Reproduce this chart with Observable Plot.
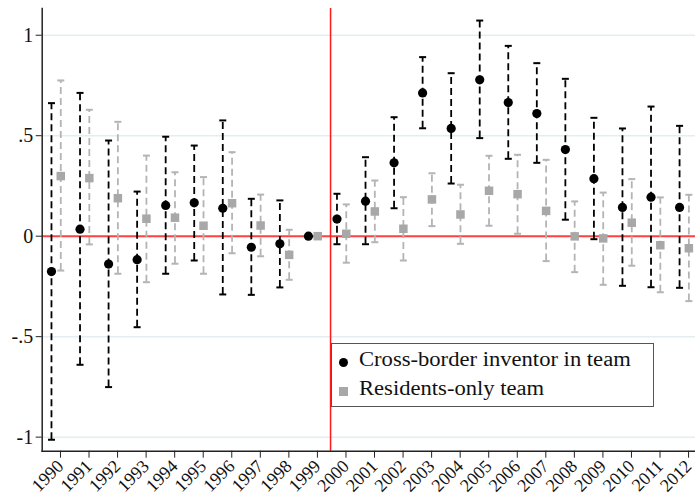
<!DOCTYPE html>
<html>
<head>
<meta charset="utf-8">
<script src="https://cdn.jsdelivr.net/npm/d3@7"></script>
<script src="https://cdn.jsdelivr.net/npm/@observablehq/plot@0.6"></script>
<style>
  html, body { margin: 0; padding: 0; background: #fff; }
  #wrap { position: relative; width: 695px; height: 497px; font-family: "Liberation Serif", "DejaVu Serif", serif; }
  #legend { position: absolute; left: 331px; top: 343px; width: 321px; height: 62px; border: 1.5px solid #555; background: #fff; box-sizing: content-box; }
  .row { position: absolute; left: 0; font-size: 20px; color: #111; white-space: nowrap; }
  .row span.t { position: absolute; left: 27px; top: 0; display: inline-block; transform: scaleX(1.13); transform-origin: 0 50%; }
  .sym { position: absolute; }
</style>
</head>
<body>
<div id="wrap">
  <div id="chart"></div>
  <div id="legend">
    <div class="row" style="top:4px"><div class="sym" style="left:7px;top:10px;width:9px;height:9px;border-radius:50%;background:#000"></div><span class="t">Cross-border inventor in team</span></div>
    <div class="row" style="top:33px"><div class="sym" style="left:7px;top:10px;width:9px;height:9px;background:#a8a8a8"></div><span class="t">Residents-only team</span></div>
  </div>
</div>
<script>
const years = [1990,1991,1992,1993,1994,1995,1996,1997,1998,1999,2000,2001,2002,2003,2004,2005,2006,2007,2008,2009,2010,2011,2012];
const crossPoint = [-0.176, 0.035, -0.139, -0.117, 0.153, 0.166, 0.139, -0.055, -0.038, 0, 0.085, 0.174, 0.365, 0.713, 0.536, 0.778, 0.665, 0.610, 0.431, 0.286, 0.143, 0.194, 0.143];
const crossLow   = [-1.013, -0.640, -0.751, -0.453, -0.187, -0.121, -0.290, -0.292, -0.255, null, -0.040, -0.040, 0.139, 0.537, 0.262, 0.488, 0.385, 0.365, 0.082, -0.015, -0.247, -0.254, -0.257];
const crossHigh  = [0.662, 0.713, 0.476, 0.222, 0.495, 0.451, 0.576, 0.186, 0.178, null, 0.211, 0.393, 0.592, 0.891, 0.811, 1.073, 0.947, 0.861, 0.783, 0.589, 0.536, 0.645, 0.549];
const resPoint = [0.299, 0.289, 0.189, 0.087, 0.092, 0.052, 0.164, 0.053, -0.093, 0, 0.012, 0.123, 0.037, 0.183, 0.108, 0.226, 0.209, 0.126, -0.001, -0.011, 0.067, -0.045, -0.060];
const resLow   = [-0.171, -0.041, -0.187, -0.229, -0.137, -0.187, -0.085, -0.100, -0.217, null, -0.132, -0.030, -0.121, 0.050, -0.038, 0.052, 0.012, -0.124, -0.179, -0.242, -0.147, -0.279, -0.323];
const resHigh  = [0.775, 0.629, 0.569, 0.401, 0.318, 0.294, 0.418, 0.207, 0.032, null, 0.158, 0.277, 0.194, 0.313, 0.256, 0.400, 0.405, 0.380, 0.173, 0.217, 0.284, 0.193, 0.206];
const yTicks = [-1, -0.5, 0, 0.5, 1];
const gridValues = [-1, -0.5, 0.5, 1];
const breakYear = 1999.6;

const cross = years.map((year, i) => ({year, point: crossPoint[i], low: crossLow[i], high: crossHigh[i]}));
const res = years.map((year, i) => ({year, point: resPoint[i], low: resLow[i], high: resHigh[i]}));

const cap = { draw(ctx, size) { const r = Math.sqrt(size / Math.PI); ctx.moveTo(-r, 0); ctx.lineTo(r, 0); } };
const fmt = d => d === 0 ? "0" : String(d).replace("0.", ".");
const font = "Liberation Serif";

const chart = Plot.plot({
  width: 695,
  height: 497,
  marginLeft: 41.7,
  marginRight: 0,
  marginTop: 8,
  marginBottom: 46.3,
  style: { fontFamily: font, background: "#fff", overflow: "visible" },
  x: { domain: [1989.5, 2012.383] },
  y: { domain: [-1.07, 1.133] },
  marks: [
    Plot.gridY(gridValues, { stroke: "#e4eef1", strokeOpacity: 1, strokeWidth: 1.5 }),
    Plot.ruleY([0], { stroke: "#ff4040", strokeWidth: 2 }),
    Plot.ruleX([breakYear], { stroke: "#ff1a1a", strokeWidth: 1.5 }),
    Plot.ruleX(res, { x: "year", y1: "low", y2: "high", dx: 4.3, stroke: "#b4b4b4", strokeWidth: 1.8, strokeDasharray: "7,4" }),
    Plot.dot(res, { x: "year", y: "low", dx: 4.3, symbol: cap, r: 3.5, stroke: "#b4b4b4", strokeWidth: 2, fill: "none" }),
    Plot.dot(res, { x: "year", y: "high", dx: 4.3, symbol: cap, r: 3.5, stroke: "#b4b4b4", strokeWidth: 2, fill: "none" }),
    Plot.ruleX(cross, { x: "year", y1: "low", y2: "high", dx: -5, stroke: "#000", strokeWidth: 1.8, strokeDasharray: "7,4" }),
    Plot.dot(cross, { x: "year", y: "low", dx: -5, symbol: cap, r: 3.5, stroke: "#000", strokeWidth: 2, fill: "none" }),
    Plot.dot(cross, { x: "year", y: "high", dx: -5, symbol: cap, r: 3.5, stroke: "#000", strokeWidth: 2, fill: "none" }),
    Plot.dot(res, { x: "year", y: "point", dx: 4.3, symbol: "square", r: 4.8, fill: "#a8a8a8", stroke: null }),
    Plot.dot(cross, { x: "year", y: "point", dx: -5, r: 4.6, fill: "#000", stroke: null }),
    Plot.frame({ anchor: "left", stroke: "#222", strokeWidth: 1.5 }),
    Plot.frame({ anchor: "bottom", stroke: "#222", strokeWidth: 1.5 }),
    Plot.axisY(yTicks, { tickFormat: fmt, tickSize: 6, tickPadding: 3, fontSize: 20, stroke: "#222", fill: "#111", label: null }),
    Plot.axisX(years, { tickFormat: d => String(d), tickSize: 7, tickPadding: 5, tickRotate: -45, fontSize: 18, stroke: "#222", fill: "#111", label: null, dx: 4 })
  ]
});
document.getElementById("chart").appendChild(chart);
</script>
</body>
</html>
